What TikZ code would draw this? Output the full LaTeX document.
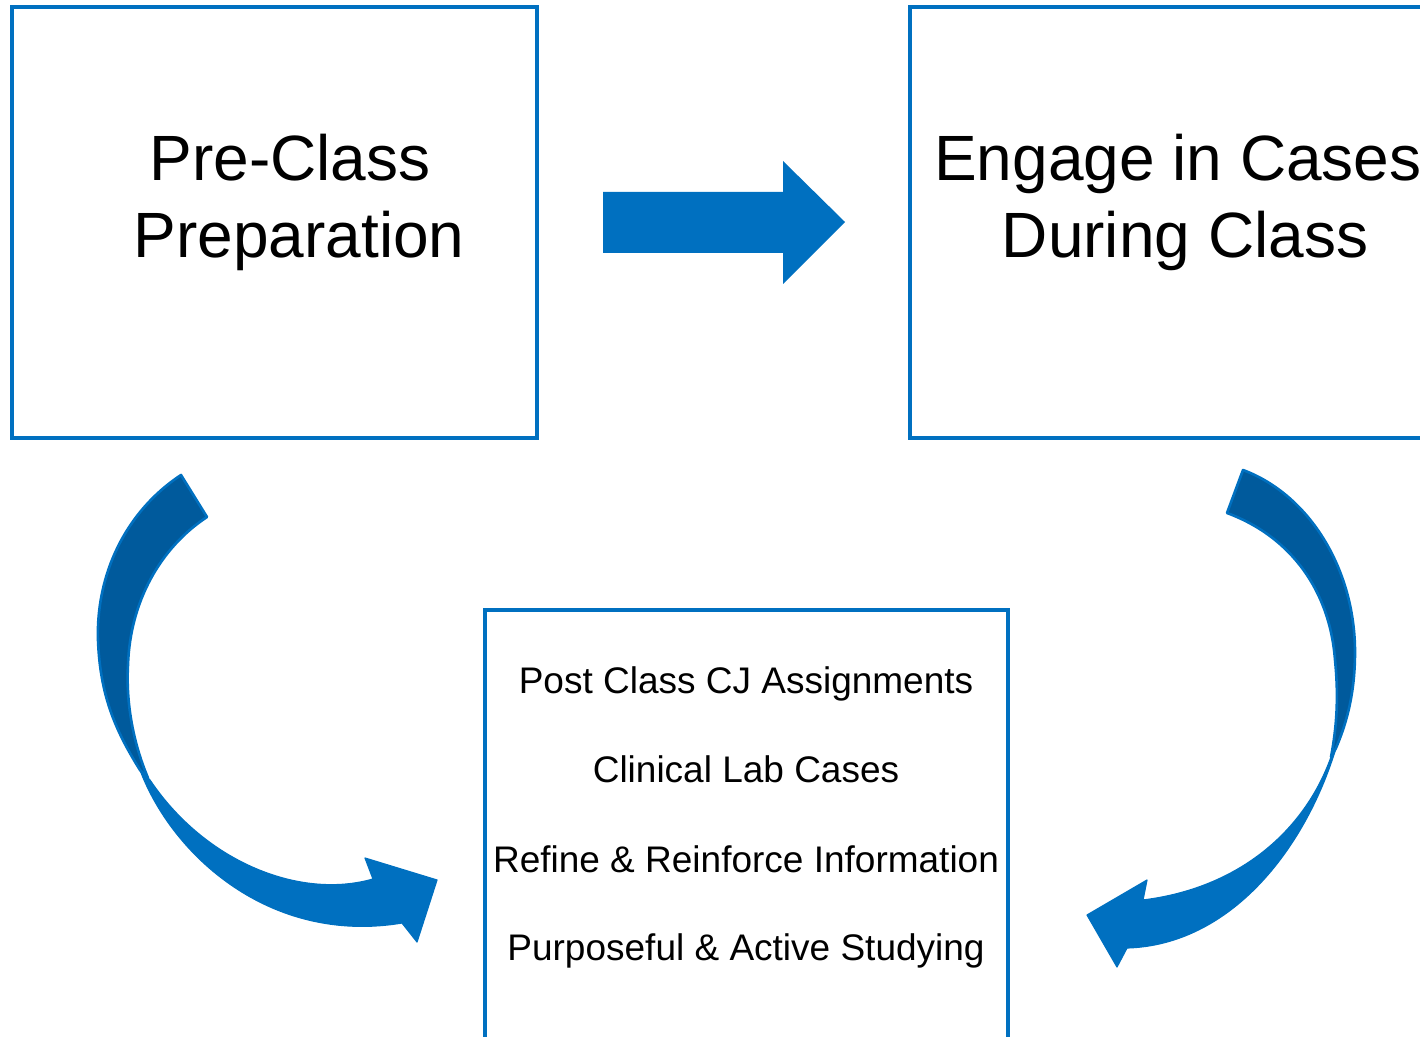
\documentclass[tikz,border=0pt]{standalone}
\usepackage{fontspec}
\setmainfont{Liberation Sans}
\definecolor{flowblue}{HTML}{0070C0}
\definecolor{flowdark}{HTML}{005A9C}
\begin{document}
\begin{tikzpicture}[x=0.5pt,y=-0.5pt,
  stagebox/.style={draw=flowblue,line width=2pt,fill=none},
  bigtext/.style={font=\fontsize{32}{38}\selectfont,anchor=base,inner sep=0pt},
  smalltext/.style={font=\fontsize{18.5}{22}\selectfont,anchor=base,inner sep=0pt},
  frontband/.style={fill=flowblue,draw=flowblue,line width=0.6pt,line join=round},
  backband/.style={fill=flowdark,draw=flowblue,line width=1.3pt,line join=round}]
\useasboundingbox (0,0) rectangle (1420,1037);
\clip (0,0) rectangle (1420,1037);

% stage boxes
\draw[stagebox] (12,7) rectangle (537,438);
\draw[stagebox] (910,7) rectangle (1430,438);
\draw[stagebox] (485,610) rectangle (1008,1060);

% box labels
\node[bigtext] (preA) at (290,181) {Pre-Class};
\node[bigtext] (preB) at (299,258) {Preparation};
\node[bigtext] (durA) at (1178,181) {Engage in Cases};
\node[bigtext] (durB) at (1185,258) {During Class};
\node[smalltext] (postA) at (746,693) {Post Class CJ Assignments};
\node[smalltext] (postB) at (746,782) {Clinical Lab Cases};
\node[smalltext] (postC) at (746,872) {Refine \& Reinforce Information};
\node[smalltext] (postD) at (746,960) {Purposeful \& Active Studying};

% straight block arrow between the top boxes
\fill[flowblue] (603,192) -- (783,192) -- (783,161) -- (845,222)
  -- (783,284) -- (783,253) -- (603,253) -- cycle;

% left curved arrow: back of the twisted ribbon
\path[backband] (181,475) .. controls (125,512) and (96,575) .. (98,640)
  .. controls (100,695) and (115,730) .. (140,770) -- (148,778)
  .. controls (132,740) and (126,700) .. (128,665)
  .. controls (130,602) and (160,548) .. (207,517) -- cycle;
% left curved arrow: front of the ribbon with its head
\path[frontband] (140,770) .. controls (172,855) and (270,945) .. (402,923)
  -- (417,942) -- (437,880) -- (365,858) -- (373,879)
  .. controls (300,900) and (205,862) .. (150,780) -- cycle;

% right curved arrow: back of the twisted ribbon
\path[backband] (1243,470) .. controls (1310,495) and (1355,570) .. (1355,652)
  .. controls (1355,690) and (1348,720) .. (1336,748) -- (1331,757)
  .. controls (1338,720) and (1338,690) .. (1335,660)
  .. controls (1330,592) and (1292,537) .. (1227,513) -- cycle;
% right curved arrow: front of the ribbon with its head
\path[frontband] (1336,748) .. controls (1305,850) and (1230,945) .. (1127,948)
  -- (1117,967) -- (1087,915) -- (1147,880) -- (1143,900)
  .. controls (1240,888) and (1305,830) .. (1331,757) -- cycle;
\end{tikzpicture}
\end{document}
